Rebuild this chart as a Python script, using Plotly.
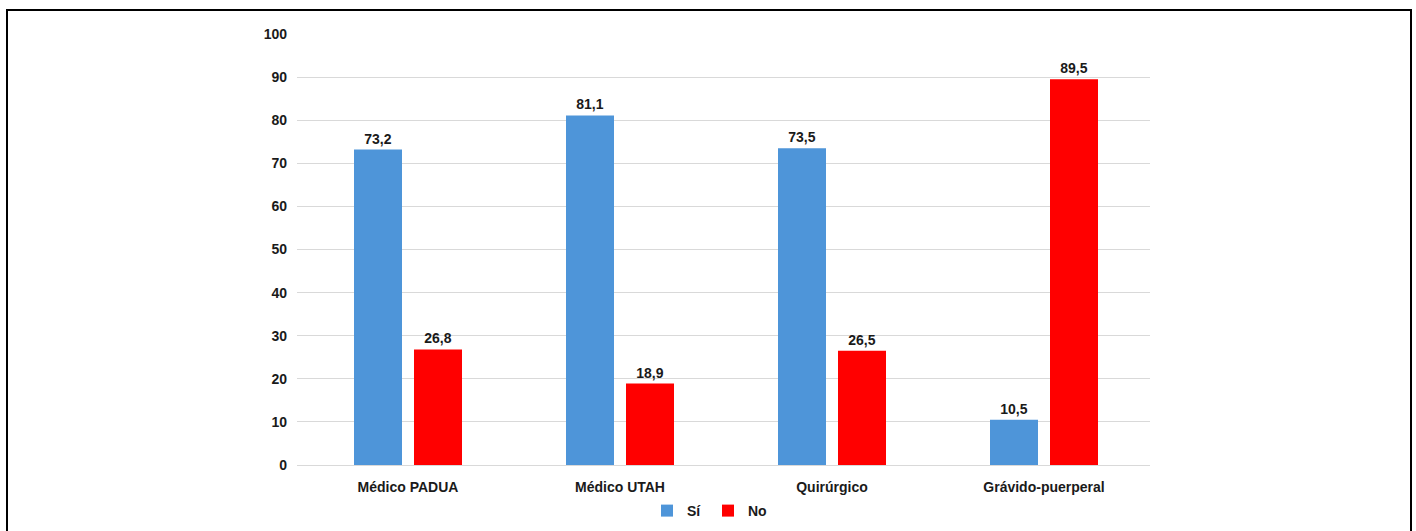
import plotly.graph_objects as go

categories = ["Médico PADUA", "Médico UTAH", "Quirúrgico", "Grávido-puerperal"]
si_values = [73.2, 81.1, 73.5, 10.5]
no_values = [26.8, 18.9, 26.5, 89.5]
y_ticks = [0, 10, 20, 30, 40, 50, 60, 70, 80, 90, 100]

def fmt(v):
    return f"{v:.1f}".replace(".", ",")

W, H = 1416, 531
L, R, T, B = 297, 266, 34, 66
pw, ph = W - L - R, H - T - B

font_fam = "Liberation Sans, Arial, sans-serif"
bold = dict(family=font_fam, size=14, color="#1a1a1a", weight="bold")

fig = go.Figure()
fig.add_trace(go.Bar(
    name="Sí", x=categories, y=si_values, marker=dict(color="#4E95D9", line=dict(width=0)),
    text=[fmt(v) for v in si_values], textposition="outside",
    textfont=bold, cliponaxis=False,
))
fig.add_trace(go.Bar(
    name="No", x=categories, y=no_values, marker=dict(color="#FF0000", line=dict(width=0)),
    text=[fmt(v) for v in no_values], textposition="outside",
    textfont=bold, cliponaxis=False,
))

def px_x(p):
    return (p - L) / pw

def px_y(p):
    return (H - B - p) / ph

step = 212.0
x0 = -(408 - L) / step
x1 = x0 + pw / step

fig.update_layout(
    width=W, height=H,
    margin=dict(l=L, r=R, t=T, b=B, autoexpand=False),
    paper_bgcolor="white", plot_bgcolor="white",
    barmode="group", bargap=1 - 120 / step, bargroupgap=0.2,
    font=dict(family=font_fam, size=14, color="#1a1a1a"),
    showlegend=True,
    legend=dict(orientation="h", x=px_x(708), xanchor="center", y=px_y(511), yanchor="middle",
                font=bold, itemwidth=30, traceorder="normal", tracegroupgap=0,
                entrywidth=16, entrywidthmode="pixels"),
    xaxis=dict(range=[x0, x1], showgrid=False, showline=False, ticks="", automargin=False,
               ticklabelstandoff=12, tickfont=bold),
    yaxis=dict(range=[0, 100], tickvals=y_ticks, showgrid=True, gridcolor="#D9D9D9",
               gridwidth=1, zeroline=True, zerolinecolor="#D9D9D9", zerolinewidth=1,
               showline=False, ticks="", ticklabelstandoff=9, automargin=False,
               tickfont=bold),
    shapes=[dict(type="rect", xref="paper", yref="paper",
                 x0=px_x(7), x1=px_x(1411), y0=px_y(560), y1=px_y(10),
                 line=dict(color="black", width=2), fillcolor="rgba(0,0,0,0)", layer="below")],
)
fig.update_traces(textangle=0)

fig.write_html("out.html")
